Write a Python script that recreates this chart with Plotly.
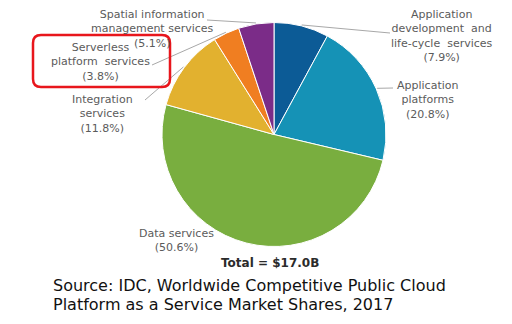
import math
import plotly.graph_objects as go

# Market share by PaaS segment (%), clockwise from 12 o'clock
segments = [
    "Application development and life-cycle services",
    "Application platforms",
    "Data services",
    "Integration services",
    "Serverless platform services",
    "Spatial information management services",
]
shares = [7.9, 20.8, 50.6, 11.8, 3.8, 5.1]
label_texts = [
    "Application<br>development  and<br>life-cycle  services<br>(7.9%)",
    "Application<br>platforms<br>(20.8%)",
    "Data services<br>(50.6%)",
    "Integration<br>services<br>(11.8%)",
    "Serverless<br>platform  services<br>(3.8%)",
    "Spatial information<br>management services<br>(5.1%)",
]
colors = ["#0c5b96", "#1592b6", "#79ae3f", "#e2b12f", "#f07e21", "#7b2c88"]
total_text = "Total = $17.0B"
source_lines = [
    "Source: IDC, Worldwide Competitive Public Cloud",
    "Platform as a Service Market Shares, 2017",
]

W, H = 512, 324
cx, cy, r = 274, 134.5, 112

# label centres and the point where each leader line ends (None = no leader)
label_pos = [(442, 36), (427, 100), (176, 240), (102, 114), (100, 62), (152, 29)]
leader_end = [(390, 33), (393, 88), None, (145, 100), (152, 65), (207, 20)]

fig = go.Figure()
fig.add_trace(go.Pie(
    labels=segments,
    values=shares,
    sort=False,
    direction="clockwise",
    rotation=0,
    marker=dict(colors=colors, line=dict(color="white", width=1)),
    textinfo="none",
    hoverinfo="label+percent",
    showlegend=False,
    domain=dict(x=[(cx - r) / W, (cx + r) / W], y=[1 - (cy + r) / H, 1 - (cy - r) / H]),
))

# hidden pixel-space axes for labels and leader lines
fig.update_xaxes(range=[0, W], visible=False, fixedrange=True)
fig.update_yaxes(range=[H, 0], visible=False, fixedrange=True)

shapes = []
annotations = []
cum = 0.0
tot = sum(shares)
for val, txt, (lx, ly), end in zip(shares, label_texts, label_pos, leader_end):
    mid = (cum + val / 2) / tot * 2 * math.pi
    cum += val
    px, py = cx + (r + 1) * math.sin(mid), cy - (r + 1) * math.cos(mid)
    if end is not None:
        shapes.append(dict(type="line", xref="x", yref="y", x0=px, y0=py, x1=end[0], y1=end[1],
                           line=dict(color="#a8a8a8", width=1)))
    annotations.append(dict(x=lx, y=ly, xref="x", yref="y", text=txt, showarrow=False,
                            align="center", font=dict(family="DejaVu Sans", size=11, color="#5b5b5b")))

annotations.append(dict(x=270, y=263, xref="x", yref="y", text="<b>" + total_text + "</b>",
                        showarrow=False, font=dict(family="DejaVu Sans", size=12, color="#2b2b2b")))
for i, line in enumerate(source_lines):
    annotations.append(dict(x=51, y=285 + 19 * i, xref="x", yref="y", text=line, showarrow=False,
                            xanchor="left", align="left",
                            font=dict(family="DejaVu Sans", size=16, color="#111111")))

# rounded highlight box around the serverless label
x0, y0, x1, y1, k = 33, 35, 170, 87, 8
path = (f"M{x0+k},{y0} L{x1-k},{y0} Q{x1},{y0} {x1},{y0+k} L{x1},{y1-k} Q{x1},{y1} {x1-k},{y1} "
        f"L{x0+k},{y1} Q{x0},{y1} {x0},{y1-k} L{x0},{y0+k} Q{x0},{y0} {x0+k},{y0} Z")
shapes.append(dict(type="path", xref="x", yref="y", path=path, line=dict(color="#e8161c", width=2.5)))

fig.update_layout(
    width=W, height=H,
    margin=dict(l=0, r=0, t=0, b=0),
    paper_bgcolor="white", plot_bgcolor="white",
    shapes=shapes, annotations=annotations,
)
fig.write_html("out.html")
